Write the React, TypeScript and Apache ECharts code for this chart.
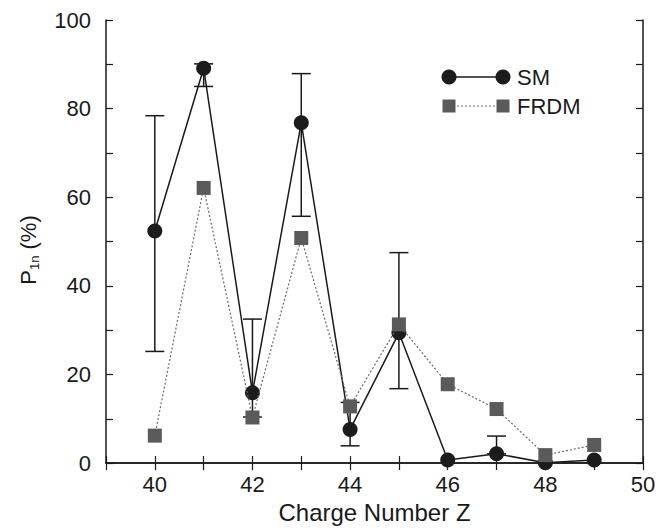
import React, { useEffect, useRef } from "react";
import * as echarts from "echarts";

const chargeZ = [40, 41, 42, 43, 44, 45, 46, 47, 48, 49];
const smValues = [52.4, 89.1, 15.9, 76.8, 7.6, 29.4, 0.7, 2.1, 0.1, 0.7];
const frdmValues = [6.2, 62.1, 10.3, 50.8, 12.8, 31.3, 17.8, 12.2, 1.8, 4.1];
// SM error bars: [Z, low, high]
const smErrZ = [40, 41, 42, 43, 44, 45, 47];
const smErrLow = [25.2, 85.0, 10.4, 55.7, 3.9, 16.8, 2.1];
const smErrHigh = [78.4, 90.1, 32.5, 87.9, 13.7, 47.5, 6.1];

const FONT = "Liberation Sans, Arial, Helvetica, sans-serif";

export default function App() {
  const ref = useRef<HTMLDivElement>(null);
  useEffect(() => {
    if (!ref.current) return;
    const chart = echarts.init(ref.current, null, { renderer: "svg" });
    const axisLine = { show: true, lineStyle: { color: "#1a1a1a", width: 1.5 } };
    const tick = { show: true, inside: true, length: 7, lineStyle: { color: "#1a1a1a", width: 1.2 } };
    const labelStyle = { fontFamily: FONT, fontSize: 22, color: "#1a1a1a" };
    const errData = smErrZ.map((z, i) => [z, smErrLow[i], smErrHigh[i]]);
    chart.setOption({
      animation: false,
      backgroundColor: "#ffffff",
      grid: { left: 106, top: 20, right: 25, bottom: 61 },
      xAxis: [
        {
          type: "value",
          min: 39,
          max: 50,
          interval: 1,
          position: "bottom",
          axisLine,
          axisTick: tick,
          splitLine: { show: false },
          axisLabel: {
            ...labelStyle,
            margin: 10,
            formatter: (v: number) => (v % 2 === 0 ? String(v) : ""),
          },
          name: "Charge Number Z",
          nameLocation: "middle",
          nameGap: 35,
          nameTextStyle: { fontFamily: FONT, fontSize: 24, color: "#1a1a1a" },
        },
        {
          type: "value",
          min: 39,
          max: 50,
          interval: 1,
          position: "top",
          axisLine,
          axisTick: tick,
          splitLine: { show: false },
          axisLabel: { show: false },
        },
      ],
      yAxis: [
        {
          type: "value",
          min: 0,
          max: 100,
          interval: 10,
          position: "left",
          axisLine,
          axisTick: tick,
          splitLine: { show: false },
          axisLabel: {
            ...labelStyle,
            margin: 15,
            formatter: (v: number) => (v % 20 === 0 ? String(v) : ""),
          },
        },
        {
          type: "value",
          min: 0,
          max: 100,
          interval: 10,
          position: "right",
          axisLine,
          axisTick: tick,
          splitLine: { show: false },
          axisLabel: { show: false },
        },
      ],
      graphic: [
        {
          type: "text",
          x: 28,
          y: 250,
          rotation: Math.PI / 2,
          style: {
            text: "{a|P}{b|1n}{a| (%)}",
            align: "center",
            verticalAlign: "middle",
            rich: {
              a: { fontFamily: FONT, fontSize: 22, fill: "#1a1a1a", lineHeight: 26 },
              b: { fontFamily: FONT, fontSize: 13, fill: "#1a1a1a", verticalAlign: "bottom", lineHeight: 26, padding: [10, 0, 0, 0] },
            },
          },
        },
        // legend
        { type: "line", shape: { x1: 449, y1: 77, x2: 503, y2: 77 }, style: { stroke: "#1a1a1a", lineWidth: 1.5 } },
        { type: "circle", shape: { cx: 449, cy: 77, r: 7.5 }, style: { fill: "#1c1c1c" } },
        { type: "circle", shape: { cx: 503, cy: 77, r: 7.5 }, style: { fill: "#1c1c1c" } },
        { type: "text", x: 517, y: 77, style: { text: "SM", fontFamily: FONT, fontSize: 22, fill: "#1a1a1a", verticalAlign: "middle" } },
        { type: "line", shape: { x1: 449, y1: 106, x2: 503, y2: 106 }, style: { stroke: "#6a6a6a", lineWidth: 1.2, lineDash: [2, 2] } },
        { type: "rect", shape: { x: 442.5, y: 99.5, width: 13, height: 13 }, style: { fill: "#5a5a5a" } },
        { type: "rect", shape: { x: 496.5, y: 99.5, width: 13, height: 13 }, style: { fill: "#5a5a5a" } },
        { type: "text", x: 517, y: 106, style: { text: "FRDM", fontFamily: FONT, fontSize: 22, fill: "#1a1a1a", verticalAlign: "middle" } },
      ],
      series: [
        {
          type: "custom",
          name: "SM error",
          xAxisIndex: 0,
          yAxisIndex: 0,
          data: errData,
          z: 1,
          renderItem: (params: any, api: any) => {
            const x = api.value(0);
            const lo = api.coord([x, api.value(1)]);
            const hi = api.coord([x, api.value(2)]);
            const w = 9.5;
            const style = { stroke: "#1a1a1a", lineWidth: 1.5 };
            return {
              type: "group",
              children: [
                { type: "line", shape: { x1: lo[0], y1: lo[1], x2: hi[0], y2: hi[1] }, style },
                { type: "line", shape: { x1: hi[0] - w, y1: hi[1], x2: hi[0] + w, y2: hi[1] }, style },
                { type: "line", shape: { x1: lo[0] - w, y1: lo[1], x2: lo[0] + w, y2: lo[1] }, style },
              ],
            };
          },
        },
        {
          type: "line",
          name: "SM",
          data: chargeZ.map((z, i) => [z, smValues[i]]),
          symbol: "circle",
          symbolSize: 15,
          showAllSymbol: true,
          z: 2,
          lineStyle: { color: "#1a1a1a", width: 1.5 },
          itemStyle: { color: "#1c1c1c" },
        },
        {
          type: "line",
          name: "FRDM",
          data: chargeZ.map((z, i) => [z, frdmValues[i]]),
          symbol: "rect",
          symbolSize: 14,
          showAllSymbol: true,
          z: 3,
          lineStyle: { color: "#6a6a6a", width: 1.2, type: [2, 2] },
          itemStyle: { color: "#5a5a5a" },
        },
      ],
    });
    return () => chart.dispose();
  }, []);
  return (
    <div
      ref={ref}
      style={{ position: "fixed", left: 0, top: 0, width: 668, height: 529, background: "#fff" }}
    />
  );
}
